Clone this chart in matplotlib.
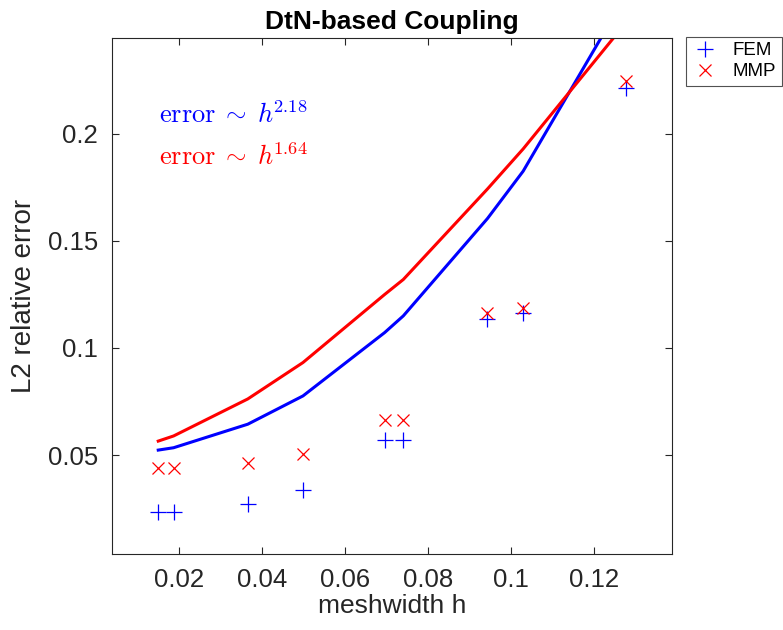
import matplotlib
matplotlib.use("Agg")
import matplotlib.pyplot as plt

plt.rcParams['font.family'] = ['Liberation Sans', 'DejaVu Sans']
plt.rcParams['mathtext.fontset'] = 'cm'

# data
h = [0.0149, 0.0186, 0.0365, 0.0498, 0.0695, 0.0740, 0.0943, 0.1029, 0.1277]
fem_err = [0.0235, 0.0235, 0.0270, 0.0336, 0.0570, 0.0570, 0.1136, 0.1162, 0.2214]
mmp_err = [0.0438, 0.0438, 0.0461, 0.0503, 0.0664, 0.0664, 0.1165, 0.1186, 0.2248]
fem_fit = [0.0523, 0.0534, 0.0644, 0.0776, 0.1072, 0.1150, 0.1605, 0.1826, 0.2648]
mmp_fit = [0.0565, 0.0589, 0.0762, 0.0932, 0.1250, 0.1320, 0.1743, 0.1930, 0.2520]
xticks = [0.02, 0.04, 0.06, 0.08, 0.10, 0.12]
xticklabels = ['0.02', '0.04', '0.06', '0.08', '0.1', '0.12']
yticks = [0.05, 0.10, 0.15, 0.20]
yticklabels = ['0.05', '0.1', '0.15', '0.2']
rate_fem = '2.18'
rate_mmp = '1.64'

fig = plt.figure(figsize=(7.83, 6.30), dpi=100)
ax = fig.add_axes([0.1430, 0.1201, 0.7158, 0.8192])

ax.plot(h, fem_fit, color=(0, 0, 1), lw=2.2, zorder=2)
ax.plot(h, mmp_fit, color=(1, 0, 0), lw=2.2, zorder=2)
ax.plot(h, fem_err, linestyle='none', marker='+', ms=11, mew=0.9,
        color=(0, 0, 1), label='FEM', zorder=3)
ax.plot(h, mmp_err, linestyle='none', marker='x', ms=8, mew=0.9,
        color=(1, 0, 0), label='MMP', zorder=3)

ax.set_xlim(0.00374, 0.1389)
ax.set_ylim(0.0036, 0.2447)
ax.set_xticks(xticks)
ax.set_xticklabels(xticklabels)
ax.set_yticks(yticks)
ax.set_yticklabels(yticklabels)

axcol = (0.15, 0.15, 0.15)
for s in ax.spines.values():
    s.set_color(axcol)
    s.set_linewidth(0.8)
ax.tick_params(axis='both', direction='in', length=5, width=0.8, color=axcol,
               labelcolor=axcol, labelsize=18.5, top=True, right=True)
ax.tick_params(axis='x', pad=10)
ax.tick_params(axis='y', pad=10)

ax.set_xlabel('meshwidth h', fontsize=19, color=axcol, labelpad=1)
ax.set_ylabel('L2 relative error', fontsize=20, color=axcol, labelpad=8)
ax.set_title('DtN-based Coupling', fontsize=19, fontweight='bold', pad=7)

ax.text(0.01517, 0.205, r'$\mathrm{error}\;\sim\;h^{\!' + rate_fem + '}$',
        color=(0, 0, 1), fontsize=19, va='baseline', ha='left')
ax.text(0.01517, 0.1855, r'$\mathrm{error}\;\sim\;h^{\!' + rate_mmp + '}$',
        color=(1, 0, 0), fontsize=19, va='baseline', ha='left')

leg = fig.legend(loc='upper left', bbox_to_anchor=(0.876, 0.9418),
                 fontsize=13.5, frameon=True, fancybox=False,
                 edgecolor=axcol, handlelength=1.4, handletextpad=0.8,
                 borderpad=0.3, labelspacing=0.2, borderaxespad=0)
leg.get_frame().set_linewidth(0.8)

fig.savefig('out.png', dpi=100)
